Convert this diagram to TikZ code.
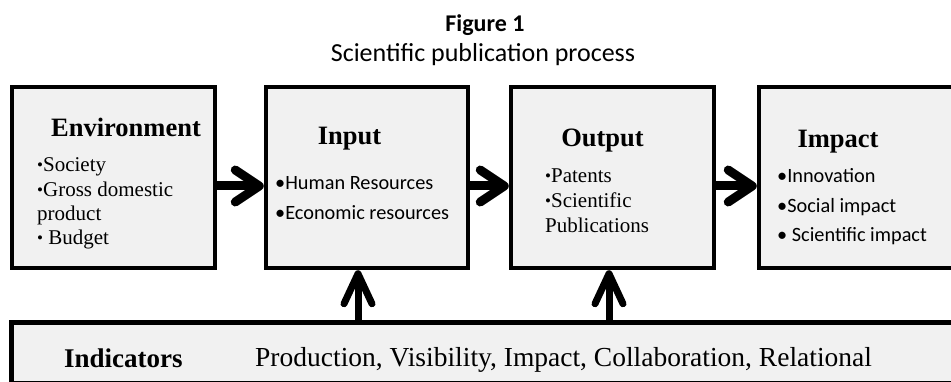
\documentclass[tikz,border=0pt]{standalone}
\usepackage{fontspec}
\setmainfont{Liberation Serif}
\newfontfamily\calfont{Carlito}
\usetikzlibrary{arrows.meta}
\definecolor{boxfill}{HTML}{F1F1F1}
\newcommand{\sbul}{\raisebox{0.12ex}{\fontsize{17}{17}\selectfont\textbullet}}
\tikzset{
  stagebox/.style={draw=black, line width=4.5pt, fill=boxfill, inner sep=0pt},
  head/.style={anchor=base, font=\fontsize{26.5}{30}\selectfont\bfseries},
  item/.style={anchor=base west, inner sep=0pt, font=\fontsize{21}{24}\selectfont},
  citem/.style={anchor=base west, inner sep=0pt, font=\calfont\fontsize{20.3}{24}\selectfont},
  harrow/.style={line width=9pt, -{Straight Barb[length=24pt,width=32pt,round]}},
  varrow/.style={line width=7pt, -{Straight Barb[length=30pt,width=28pt,round]}}
}
\begin{document}
\begin{tikzpicture}[x=1pt,y=-1pt]
\useasboundingbox (0,0) rectangle (951,382);
% title
\node[anchor=base, inner sep=0pt, font=\calfont\bfseries\fontsize{24}{28}\selectfont] (t1) at (485,32) {Figure 1};
\node[anchor=base, inner sep=0pt, font=\calfont\fontsize{26}{30}\selectfont] (t2) at (483,62) {Scientific publication process};
% boxes
\node[stagebox, minimum width=203pt, minimum height=181pt] (env) at (113.5,177.5) {};
\node[stagebox, minimum width=202pt, minimum height=181pt] (inp) at (367,177.5) {};
\node[stagebox, minimum width=203pt, minimum height=181pt] (out) at (612.5,177.5) {};
\node[stagebox, minimum width=202pt, minimum height=181pt] (imp) at (860,177.5) {};
\node[stagebox, minimum width=960pt, minimum height=61pt, anchor=north west] (ind) at (9,320) {};
% environment
\node[head] (envh) at (126,137) {Environment};
\node[item] (e1) at (37,172) {\sbul Society};
\node[item] (e2) at (37,197) {\sbul Gross domestic};
\node[item] (e3) at (37,221) {product};
\node[item] (e4) at (37,245) {\sbul\ Budget};
% input
\node[head] (inph) at (349.5,145) {Input};
\node[citem] (i1) at (275,190) {\textbullet Human Resources};
\node[citem] (i2) at (275,220) {\textbullet Economic resources};
% output
\node[head] (outh) at (602.5,147) {Output};
\node[item] (o1) at (545,183) {\sbul Patents};
\node[item] (o2) at (545,208) {\sbul Scientific};
\node[item] (o3) at (545,233) {Publications};
% impact
\node[head] (imph) at (838,148) {Impact};
\node[citem] (m1) at (777,183) {\textbullet Innovation};
\node[citem] (m2) at (777,213) {\textbullet Social impact};
\node[citem] (m3) at (777,242) {\textbullet\ Scientific impact};
% indicators
\node[anchor=base west, inner sep=0pt, font=\fontsize{27}{30}\selectfont\bfseries] (indl) at (64,367) {Indicators};
\node[anchor=base west, inner sep=0pt, font=\fontsize{27.5}{30}\selectfont] (indt) at (255,366) {Production, Visibility, Impact, Collaboration, Relational};
% arrows
\coordinate (hy) at (0,186);
\draw[harrow] (env.east |- hy) -- (inp.west |- hy);
\draw[harrow] (inp.east |- hy) -- (out.west |- hy);
\draw[harrow] (out.east |- hy) -- (imp.west |- hy);
\coordinate (a1) at (358,0);
\coordinate (a2) at (609,0);
\draw[varrow] (ind.north -| a1) -- (inp.south -| a1);
\draw[varrow] (ind.north -| a2) -- (out.south -| a2);
\end{tikzpicture}
\end{document}
